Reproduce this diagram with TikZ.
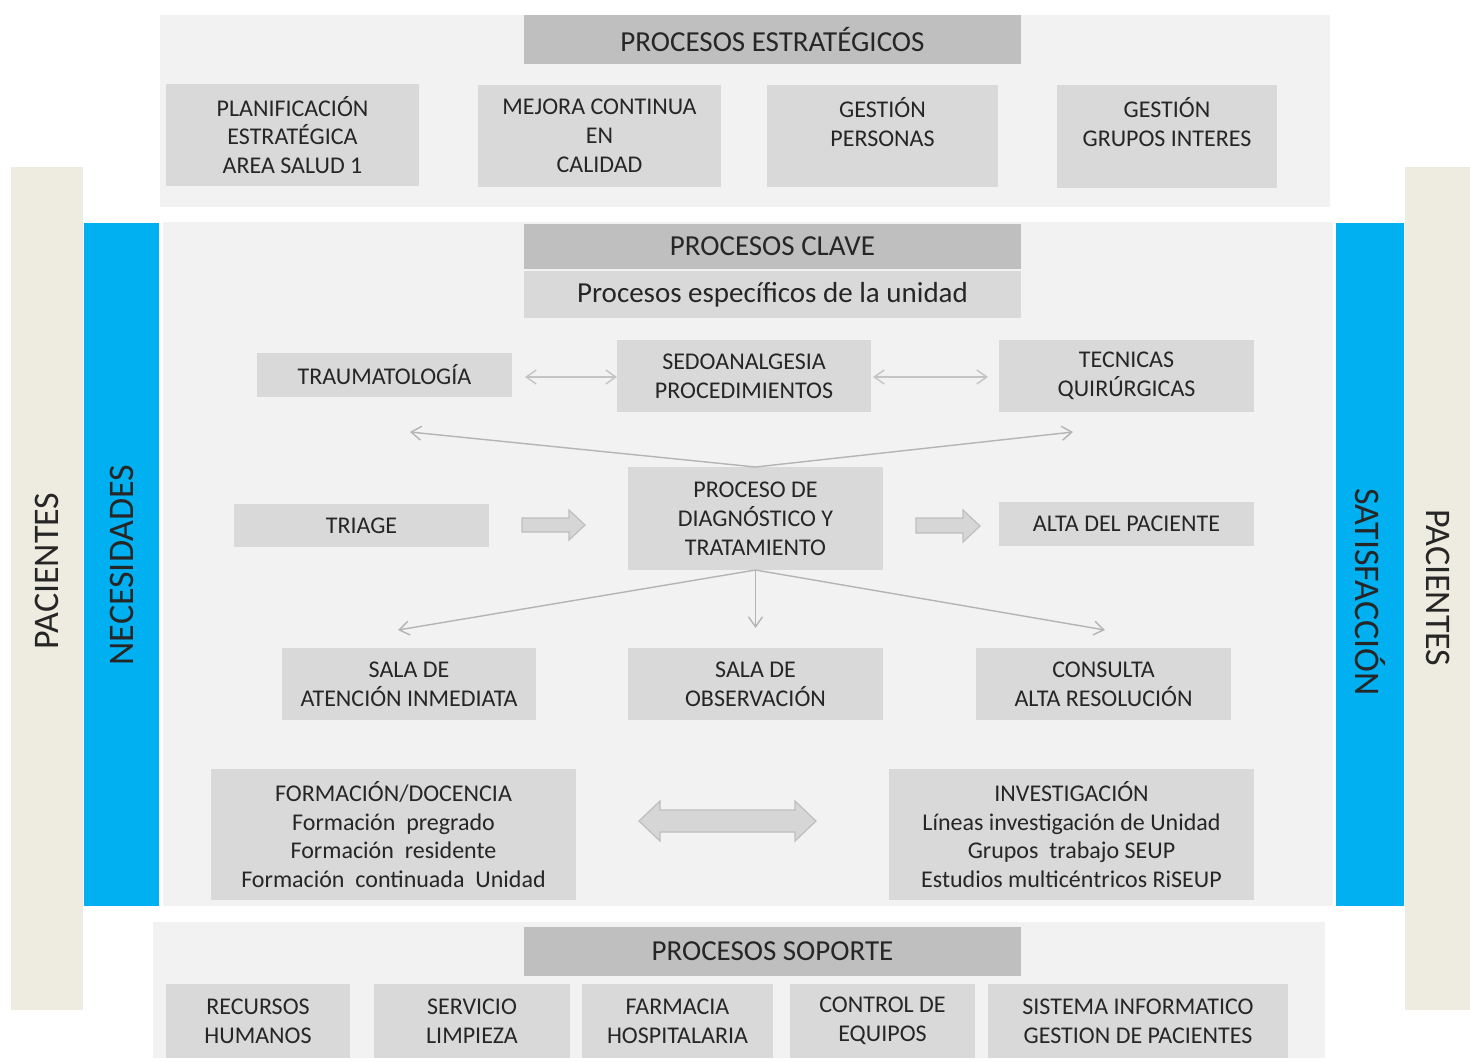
\documentclass[tikz,border=0pt]{standalone}
\usepackage{fontspec}
\setmainfont{Carlito}
\usetikzlibrary{arrows.meta}

\definecolor{panelbg}{HTML}{F2F2F2}
\definecolor{boxbg}{HTML}{D9D9D9}
\definecolor{headbg}{HTML}{BFBFBF}
\definecolor{barblue}{HTML}{00B0F0}
\definecolor{barbeige}{HTML}{EEECE1}
\definecolor{ink}{HTML}{262626}
\definecolor{linkgray}{HTML}{B4B4B4}
\definecolor{linklight}{HTML}{C4C4C4}
\definecolor{blockfill}{HTML}{D6D6D6}
\definecolor{blockedge}{HTML}{BEBEBE}

% rectangle node given by its corners: [style]{name}{x1}{y1}{x2}{y2}{text}
\newcommand\rectnode[7][]{%
  \node[#1, minimum width={(#5-#3)*0.5pt}, minimum height={(#6-#4)*0.5pt}]
    (#2) at ({(#3+#5)/2},{(#4+#6)/2}) {#7};}

\tikzset{
  base/.style={inner sep=0pt, outer sep=0pt, align=center, text=ink,
               font=\fontsize{12}{14.45}\selectfont},
  box/.style={base, fill=boxbg},
  headbox/.style={base, fill=headbg, font=\fontsize{14.5}{17}\selectfont},
  subbox/.style={base, fill=boxbg, font=\fontsize{14.5}{17}\selectfont},
  panel/.style={base, fill=panelbg},
  bar/.style={base, font=\fontsize{18}{22}\selectfont},
  link/.style={draw=linkgray, line width=0.7pt,
               -{Straight Barb[length=5pt,width=7pt]}},
  duallink/.style={draw=linklight, line width=0.7pt,
               {Straight Barb[length=5pt,width=7pt]}-{Straight Barb[length=5pt,width=7pt]}},
  blockarrow/.style={fill=blockfill, draw=blockedge, line width=0.6pt, line join=miter},
}

\begin{document}
\begin{tikzpicture}[x=0.5pt, y=-0.5pt]
\useasboundingbox (0,0) rectangle (1470,1061);

% ---- side bars ----
\rectnode[bar, fill=barbeige]{pacLbar}{11}{167}{83}{1010}{}
\node[bar, rotate=90] (pacLtext) at (47,571) {PACIENTES};
\rectnode[bar, fill=barblue]{necbar}{84}{223}{159}{906}{}
\node[bar, rotate=90] (nectext) at (122,565) {NECESIDADES};
\rectnode[bar, fill=barblue]{satbar}{1336}{223}{1404}{906}{}
\node[bar, rotate=-90] (sattext) at (1370,592) {SATISFACCIÓN};
\rectnode[bar, fill=barbeige]{pacRbar}{1405}{167}{1470}{1010}{}
\node[bar, rotate=-90] (pacRtext) at (1438,588) {PACIENTES};

% ---- strategic processes ----
\rectnode[panel]{stratpanel}{160}{15}{1330}{207}{}
\rectnode[headbox]{strathead}{524}{15}{1021}{64}{PROCESOS ESTRATÉGICOS}
\rectnode[box]{plan}{166}{84}{419}{186}{PLANIFICACIÓN\\ESTRATÉGICA\\AREA SALUD 1}
\rectnode[box]{mejora}{478}{85}{721}{187}{MEJORA CONTINUA\\EN\\CALIDAD}
\rectnode[box]{personas}{767}{85}{998}{187}{GESTIÓN\\PERSONAS\\\mbox{}}
\rectnode[box]{grupos}{1057}{85}{1277}{188}{GESTIÓN\\GRUPOS INTERES\\\mbox{}}

% ---- key processes ----
\rectnode[panel]{keypanel}{163}{222}{1333}{906}{}
\rectnode[headbox]{keyhead}{524}{224}{1021}{269}{PROCESOS CLAVE}
\rectnode[subbox]{keysub}{524}{271}{1021}{318}{Procesos específicos de la unidad}

\rectnode[box]{trauma}{257}{353}{512}{397}{TRAUMATOLOGÍA}
\rectnode[box]{sedo}{617}{340}{871}{412}{SEDOANALGESIA\\PROCEDIMIENTOS}
\rectnode[box]{tecnicas}{999}{340}{1254}{412}{TECNICAS\\QUIRÚRGICAS}

\rectnode[box]{triage}{234}{504}{489}{547}{TRIAGE}
\rectnode[box]{proc}{628}{467}{883}{570}{PROCESO DE\\DIAGNÓSTICO Y\\TRATAMIENTO}
\rectnode[box]{alta}{999}{502}{1254}{546}{ALTA DEL PACIENTE}

\rectnode[box]{salaA}{282}{648}{536}{720}{SALA DE\\ATENCIÓN INMEDIATA}
\rectnode[box]{salaO}{628}{648}{883}{720}{SALA DE\\OBSERVACIÓN}
\rectnode[box]{consulta}{976}{648}{1231}{720}{CONSULTA\\ALTA RESOLUCIÓN}

\rectnode[box]{formacion}{211}{769}{576}{900}{FORMACIÓN/DOCENCIA\\Formación~ pregrado\\Formación~ residente\\Formación~ continuada~ Unidad}
\rectnode[box]{investigacion}{889}{769}{1254}{900}{INVESTIGACIÓN\\Líneas investigación de Unidad\\Grupos~ trabajo SEUP\\Estudios multicéntricos RiSEUP}

% ---- support processes ----
\rectnode[panel]{suppanel}{153}{922}{1325}{1058}{}
\rectnode[headbox]{suphead}{524}{927}{1021}{976}{PROCESOS SOPORTE}
\rectnode[box]{rrhh}{166}{984}{350}{1058}{RECURSOS\\HUMANOS}
\rectnode[box]{limpieza}{374}{984}{570}{1058}{SERVICIO\\LIMPIEZA}
\rectnode[box]{farmacia}{582}{984}{773}{1058}{FARMACIA\\HOSPITALARIA}
\rectnode[box]{equipos}{790}{984}{975}{1058}{CONTROL DE\\EQUIPOS}
\rectnode[box]{sistema}{988}{984}{1288}{1058}{SISTEMA INFORMATICO\\GESTION DE PACIENTES}

% ---- thin connectors ----
\draw[duallink, shorten <=6.5pt] ([yshift=-1pt]trauma.east) -- ([yshift=-1pt]trauma.east -| sedo.west);
\draw[duallink, shorten <=1pt, shorten >=5.5pt] ([yshift=-0.5pt]sedo.east) -- ([yshift=-0.5pt]sedo.east -| tecnicas.west);

\coordinate (fanTL) at (410,432);
\coordinate (fanTR) at (1073,432);
\coordinate (fanBL) at (398,630);
\coordinate (fanBM) at (757,628);
\coordinate (fanBR) at (1105,630);
\draw[link] (proc.north) -- (fanTL);
\draw[link] (proc.north) -- (fanTR);
\draw[link] (proc.south) -- (fanBL);
\draw[link] (proc.south) -- (proc.south |- fanBM);
\draw[link] (proc.south) -- (fanBR);

% ---- block arrows ----
\draw[blockarrow] (522,518) -- (569,518) -- (569,510) -- (585,525) -- (569,540)
  -- (569,532) -- (522,532) -- cycle;
\draw[blockarrow] (916,518) -- (963,518) -- (963,510) -- (980,526) -- (963,542)
  -- (963,533) -- (916,533) -- cycle;
\draw[blockarrow] (639,821) -- (660,801) -- (660,810) -- (795,810) -- (795,801)
  -- (816,821) -- (795,841) -- (795,832) -- (660,832) -- (660,841) -- cycle;
\end{tikzpicture}
\end{document}
